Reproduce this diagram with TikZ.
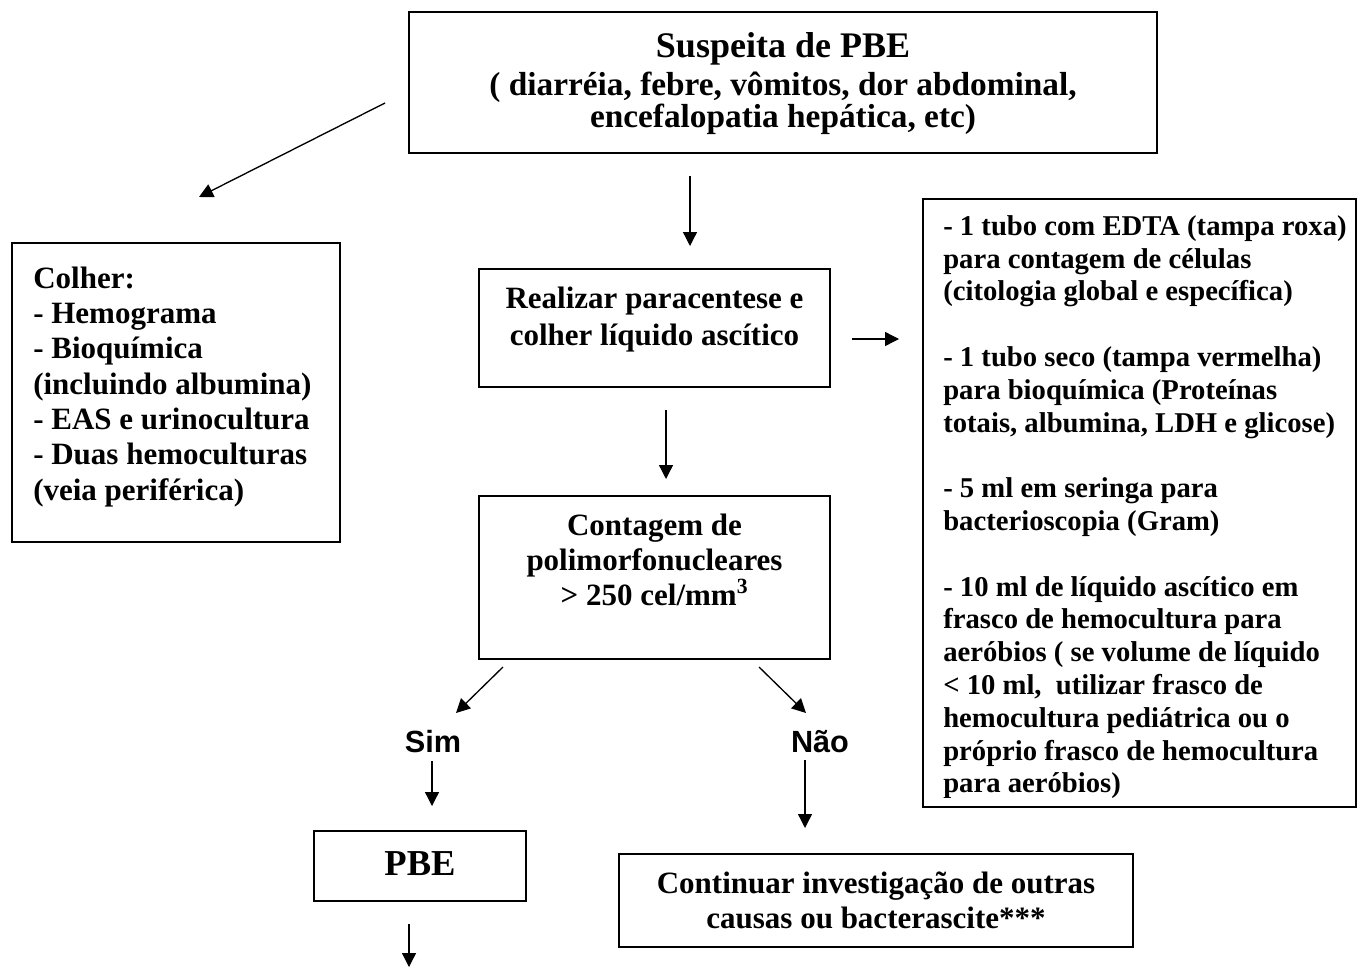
\documentclass[tikz,border=0pt]{standalone}
\usepackage{fontspec}
\setmainfont{Liberation Serif}
\newfontfamily\sansfam{Liberation Sans}
\usetikzlibrary{arrows.meta,fit}
\begin{document}
\begin{tikzpicture}[x=0.75pt,y=-0.75pt,
  box/.style={draw, line width=1.5pt, inner sep=0pt},
  txt/.style={inner sep=0pt, align=center, anchor=north},
  conn/.style={line width=1pt, -{Triangle[length=10.5pt,width=10.5pt]}},
  yesno/.style={inner sep=0pt, anchor=base, font=\sansfam\bfseries\fontsize{23pt}{26pt}\selectfont}
]
\useasboundingbox (0,0) rectangle (1358,967);
\fill[white] (0,0) rectangle (1358,967);

% boxes
\node[box, fit={(409,12)(1157,153)}] (topbox) {};
\node[box, fit={(12,243)(340,542)}] (colherbox) {};
\node[box, fit={(479,269)(830,387)}] (paracbox) {};
\node[box, fit={(479,496)(830,659)}] (contbox) {};
\node[box, fit={(923,199)(1356,807)}] (tubosbox) {};
\node[box, fit={(314,831)(526,901)}] (pbebox) {};
\node[box, fit={(619,854)(1133,947)}] (contibox) {};

% texts
\node[txt, font=\fontsize{27pt}{30pt}\selectfont\bfseries] (title) at (783,21)
  {\rule{0pt}{27pt}Suspeita de PBE};
\node[txt, font=\fontsize{25pt}{24.4pt}\selectfont\bfseries] (symptoms) at (783,61.7)
  {\rule{0pt}{25pt}( diarréia, febre, vômitos, dor abdominal,\\encefalopatia hepática, etc)};

\node[txt, anchor=north west, align=left, font=\fontsize{23.25pt}{26.5pt}\selectfont\bfseries] (colherT) at (33,257)
  {\rule{0pt}{23.25pt}Colher:\\- Hemograma\\- Bioquímica\\(incluindo albumina)\\- EAS e urinocultura\\- Duas hemoculturas\\(veia periférica)};

\node[txt, font=\fontsize{23.25pt}{27.5pt}\selectfont\bfseries] (paracT) at (654.5,277.5)
  {\rule{0pt}{23.25pt}Realizar paracentese e\\colher líquido ascítico};

\node[txt, font=\fontsize{23.25pt}{26.5pt}\selectfont\bfseries] (contT) at (654.5,504)
  {\rule{0pt}{23.25pt}Contagem de\\polimorfonucleares\\> 250 cel/mm\textsuperscript{3}};

\begin{scope}
\clip (923,199) rectangle (1358,797);
\node[txt, anchor=north west, align=left, font=\fontsize{21.5pt}{24.6pt}\selectfont\bfseries] (tubosT) at (943,206.3)
  {\rule{0pt}{21.5pt}- 1 tubo com EDTA (tampa roxa)\\para contagem de células\\(citologia global e específica)\\[24.6pt]
   - 1 tubo seco (tampa vermelha)\\para bioquímica (Proteínas\\totais, albumina, LDH e glicose)\\[24.6pt]
   - 5 ml em seringa para\\bacterioscopia (Gram)\\[24.6pt]
   - 10 ml de líquido ascítico em\\frasco de hemocultura para\\aeróbios ( se volume de líquido\\< 10 ml,\ \ utilizar frasco de\\hemocultura pediátrica ou o\\próprio frasco de hemocultura\\para aeróbios)};
\end{scope}

\node[txt, font=\fontsize{27.4pt}{30pt}\selectfont\bfseries] (pbeT) at (420,838.5)
  {\rule{0pt}{27.4pt}PBE};
\node[txt, font=\fontsize{23.25pt}{26.25pt}\selectfont\bfseries] (contiT) at (876,862)
  {\rule{0pt}{23.25pt}Continuar investigação de outras\\causas ou bacterascite***};

\node[yesno] (sim) at (433,752) {Sim};
\node[yesno] (nao) at (820,752) {Não};

% connector end points
\coordinate (a1s) at (385,103);  \coordinate (a1e) at (199,197);
\coordinate (a2s) at (690,176);  \coordinate (a2e) at (690,246);
\coordinate (a3s) at (852,339);  \coordinate (a3e) at (899,339);
\coordinate (a4s) at (666,410);  \coordinate (a4e) at (666,479);
\coordinate (a5s) at (503,667);  \coordinate (a5e) at (456,713);
\coordinate (a6s) at (759,667);  \coordinate (a6e) at (806,713);
\coordinate (a7s) at (432,761);  \coordinate (a7e) at (432,806);
\coordinate (a8s) at (805,760);  \coordinate (a8e) at (805,828);
\coordinate (a9s) at (409,924);  \coordinate (a9e) at (409,967);

\draw[conn] (a1s) -- (a1e);
\draw[conn] (a2s) -- (a2e);
\draw[conn] (a3s) -- (a3e);
\draw[conn] (a4s) -- (a4e);
\draw[conn] (a5s) -- (a5e);
\draw[conn] (a6s) -- (a6e);
\draw[conn] (a7s) -- (a7e);
\draw[conn] (a8s) -- (a8e);
\draw[conn] (a9s) -- (a9e);
\end{tikzpicture}
\end{document}
